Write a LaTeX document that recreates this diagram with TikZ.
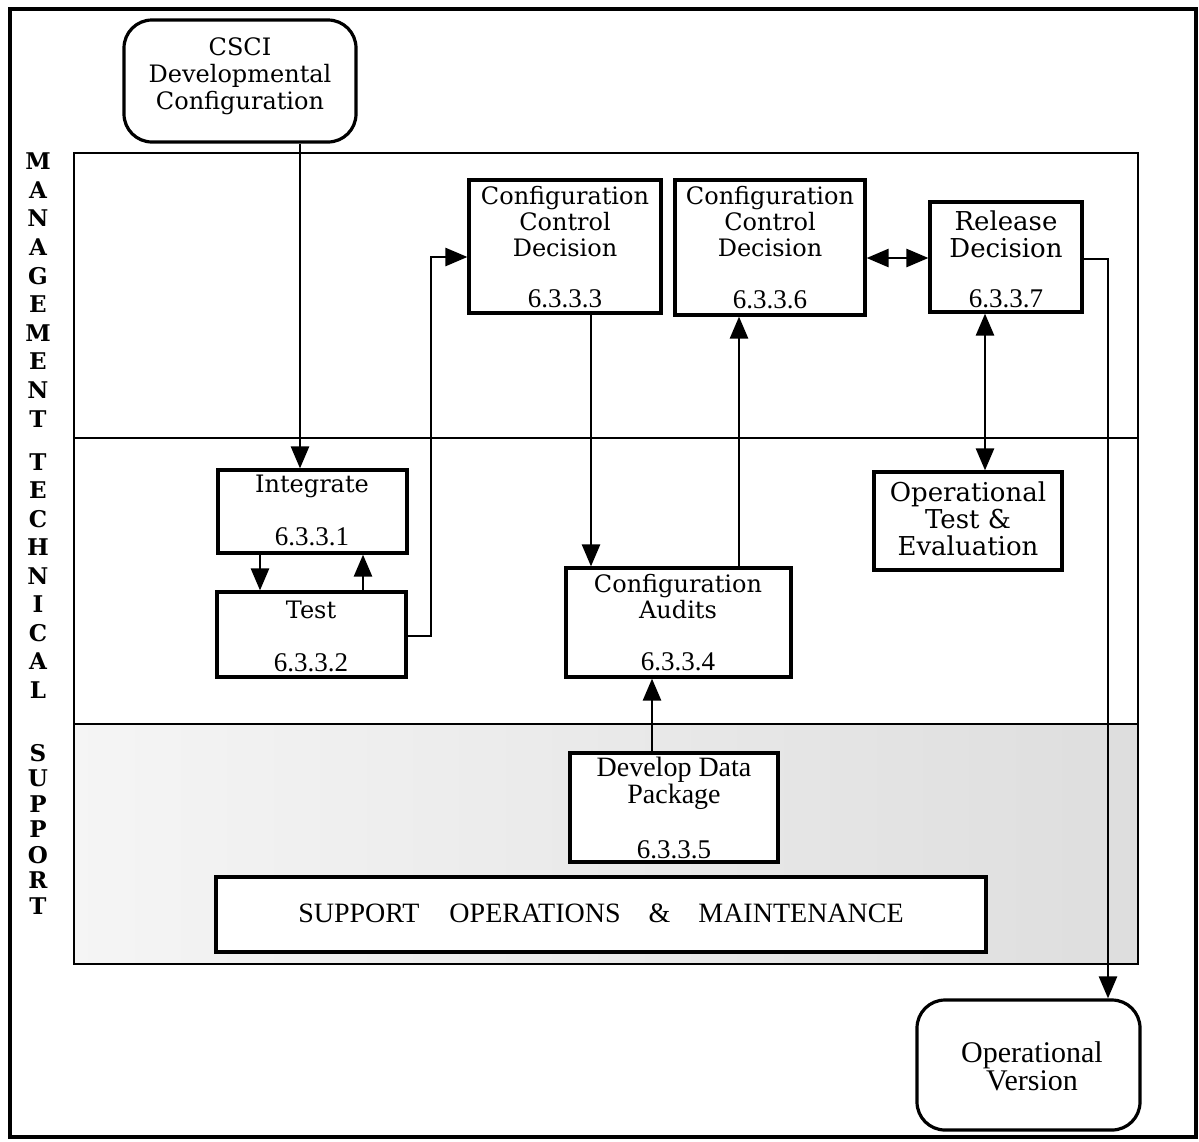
\documentclass[tikz,border=0pt]{standalone}
\usepackage{fontspec}
\setmainfont{DejaVu Serif}
\newfontfamily\tms{Liberation Serif}
\usetikzlibrary{arrows.meta,fit}
\begin{document}
\begin{tikzpicture}[x=0.5pt,y=-0.5pt,
  box/.style={draw, line width=1.6pt, inner sep=0pt, fill=white},
  rbox/.style={box, rounded corners=14pt},
  txt/.style={align=center, inner sep=0pt, font=\fontsize{12}{13}\selectfont},
  btxt/.style={align=center, inner sep=0pt, font=\fontsize{13}{13.5}\selectfont},
  num/.style={inner sep=0pt, font=\tms\fontsize{13.5}{14}\selectfont},
  ttxt/.style={align=center, inner sep=0pt, font=\tms\fontsize{14}{12.5}\selectfont},
  lane/.style={align=center, inner sep=0pt, font=\bfseries\fontsize{11.5}{#1}\selectfont},
  tip/.tip={Triangle[length=11pt,width=9pt]},
  arr/.style={line width=1.3pt, -tip},
  darr/.style={line width=1.3pt, tip-tip},
]
\useasboundingbox (0,0) rectangle (1199,1141);
\fill[white] (0,0) rectangle (1199,1141);

% shaded support band
\fill[left color=black!4, right color=black!13] (74,724) rectangle (1138,964);

% frames
\draw[line width=2.2pt] (10,9) rectangle (1196,1137);
\draw[line width=1.4pt] (74,153) rectangle (1138,964);
\draw[line width=1.4pt] (74,438) -- (1138,438);
\draw[line width=1.4pt] (74,724) -- (1138,724);

% lane labels
\node[lane=14.3] (mgmt) at (38,290) {M\\A\\N\\A\\G\\E\\M\\E\\N\\T};
\node[lane=14.25] (tech) at (38,576) {T\\E\\C\\H\\N\\I\\C\\A\\L};
\node[lane=12.75] (supp) at (38,829) {S\\U\\P\\P\\O\\R\\T};

% boxes
\node[rbox, fit={(124,20) (356,142)}] (csci) {};
\node[box, fit={(469,180) (661,313)}] (ccd1) {};
\node[box, fit={(675,180) (865,315)}] (ccd2) {};
\node[box, fit={(930,202) (1082,312)}] (rel) {};
\node[box, fit={(218,470) (407,553)}] (integ) {};
\node[box, fit={(217,592) (406,677)}] (test) {};
\node[box, fit={(566,568) (791,677)}] (audit) {};
\node[box, fit={(874,472) (1062,570)}] (ote) {};
\node[box, fit={(570,753) (778,862)}] (ddp) {};
\node[box, fit={(216,877) (986,952)}] (som) {};
\node[rbox, fit={(917,1000) (1140,1130)}] (opv) {};

% texts
\node[txt, font=\fontsize{12}{13.5}\selectfont] (cscit) at (240,76) {CSCI\\Developmental\\Configuration};
\node[txt] (ccd1t) at (565,222) {Configuration\\Control\\Decision};
\node[num] (ccd1n) at (565,299) {6.3.3.3};
\node[txt] (ccd2t) at (770,222) {Configuration\\Control\\Decision};
\node[num] (ccd2n) at (770,300) {6.3.3.6};
\node[btxt] (relt) at (1006,234) {Release\\Decision};
\node[num] (reln) at (1006,299) {6.3.3.7};
\node[txt] (integt) at (312,486) {Integrate};
\node[num] (integn) at (312,537) {6.3.3.1};
\node[txt] (testt) at (311,610) {Test};
\node[num] (testn) at (311,663) {6.3.3.2};
\node[txt] (auditt) at (678,597) {Configuration\\Audits};
\node[num] (auditn) at (678,662) {6.3.3.4};
\node[btxt] (otet) at (968,519) {Operational\\Test \&\\Evaluation};
\node[ttxt] (ddpt) at (674,783) {Develop Data\\Package};
\node[num] (ddpn) at (674,850) {6.3.3.5};
\node[ttxt] (somt) at (601,913) {SUPPORT\hspace{15pt}OPERATIONS\hspace{14pt}\&\hspace{14pt}MAINTENANCE};
\node[ttxt, font=\tms\fontsize{15}{13}\selectfont] (opvt) at (1032,1066) {Operational\\Version};

% connector columns / rows
\coordinate (xa) at (300,0);
\coordinate (xb) at (260,0);
\coordinate (xc) at (363,0);
\coordinate (xd) at (591,0);
\coordinate (xe) at (739,0);
\coordinate (xg) at (652,0);
\coordinate (xh) at (985,0);
\coordinate (p1) at (431,636);
\coordinate (p2) at (431,257);
\coordinate (ya) at (0,258);
\coordinate (p3) at (1108,259);

% connectors
\draw[arr] (csci.south -| xa) -- (integ.north -| xa);
\draw[arr] (integ.south -| xb) -- (test.north -| xb);
\draw[arr] (test.north -| xc) -- (integ.south -| xc);
\draw[arr] (test.east |- p1) -- (p1) -- (p2) -- (ccd1.west |- p2);
\draw[arr] (ccd1.south -| xd) -- (audit.north -| xd);
\draw[arr] (audit.north -| xe) -- (ccd2.south -| xe);
\draw[arr] (ddp.north -| xg) -- (audit.south -| xg);
\draw[darr] (ccd2.east |- ya) -- (rel.west |- ya);
\draw[darr] (rel.south -| xh) -- (ote.north -| xh);
\draw[arr] (rel.east |- p3) -- (p3) -- (opv.north -| p3);
\end{tikzpicture}
\end{document}
